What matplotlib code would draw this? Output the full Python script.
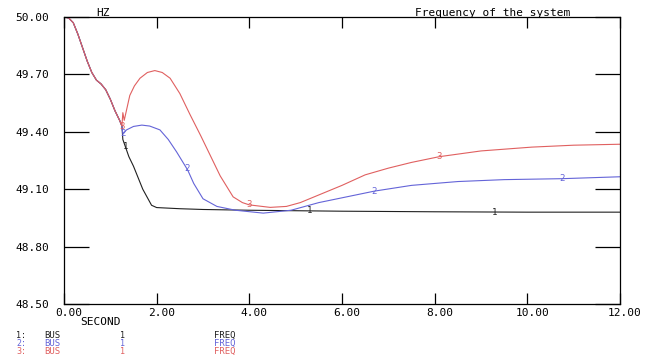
import numpy as np
import matplotlib.pyplot as plt
from matplotlib.transforms import ScaledTranslation

# shared initial drop (all three runs identical up to ~1.25 s)
t_start = [0.0, 0.1, 0.2, 0.3, 0.4, 0.5, 0.6, 0.7, 0.8, 0.9, 1.0, 1.1, 1.2, 1.25]
f_start = [50.00, 49.995, 49.97, 49.91, 49.84, 49.77, 49.71, 49.67, 49.65, 49.62, 49.57, 49.51, 49.46, 49.43]

t1 = t_start + [1.27, 1.4, 1.5, 1.7, 1.89, 2.0, 2.5, 3.0, 4.0, 6.0, 8.0, 10.0, 12.0]
f1 = f_start + [49.36, 49.27, 49.22, 49.10, 49.016, 49.004, 48.998, 48.994, 48.99, 48.985, 48.982, 48.98, 48.98]

t2 = t_start + [1.27, 1.35, 1.5, 1.68, 1.85, 2.07, 2.25, 2.43, 2.67, 2.8, 3.0, 3.3, 3.7, 4.3, 4.9,
                5.5, 6.0, 6.7, 7.5, 8.5, 9.5, 10.75, 12.0]
f2 = f_start + [49.39, 49.41, 49.428, 49.435, 49.43, 49.41, 49.36, 49.295, 49.20, 49.13, 49.05, 49.01,
                48.99, 48.975, 48.99, 49.03, 49.055, 49.09, 49.12, 49.14, 49.15, 49.155, 49.165]

t3 = t_start + [1.27, 1.3, 1.42, 1.52, 1.64, 1.8, 1.96, 2.12, 2.29, 2.5, 2.72, 2.95, 3.15, 3.37,
                3.65, 3.85, 4.0, 4.45, 4.8, 5.1, 5.5, 6.0, 6.5, 7.0, 7.5, 8.1, 9.0, 10.1, 11.0, 12.0]
f3 = f_start + [49.50, 49.46, 49.59, 49.64, 49.68, 49.71, 49.72, 49.71, 49.68, 49.60, 49.49,
                49.38, 49.28, 49.17, 49.06, 49.03, 49.018, 49.005, 49.01, 49.03, 49.07, 49.12,
                49.175, 49.21, 49.24, 49.27, 49.30, 49.32, 49.33, 49.335]

label_t1 = [1.32, 5.3, 9.3]
label_t2 = [1.27, 2.65, 6.7, 10.75]
label_t3 = [1.25, 4.0, 8.1]

xticks = [0, 2, 4, 6, 8, 10, 12]
yticks = [48.5, 48.8, 49.1, 49.4, 49.7, 50.0]

black = "#202020"
blue = "#6464d8"
red = "#e06060"
mono = "DejaVu Sans Mono"

fig = plt.figure(figsize=(6.5, 3.6), dpi=100)
ax = fig.add_axes([64 / 650, 1 - 304 / 360, 556 / 650, 287 / 360])

for t, f, c, lt, n in [(t1, f1, black, label_t1, "1"),
                       (t2, f2, blue, label_t2, "2"),
                       (t3, f3, red, label_t3, "3")]:
    ax.plot(t, f, color=c, lw=0.8)
    for x in lt:
        ax.text(x, np.interp(x, t, f), n, color=c, fontsize=6.5, family=mono,
                ha="center", va="center")

ax.set_xlim(0, 12)
ax.set_ylim(48.5, 50.0)
ax.set_xticks(xticks)
ax.set_xticklabels(["%.2f" % v for v in xticks], family=mono, fontsize=8)
ax.set_yticks(yticks)
ax.set_yticklabels(["%.2f" % v for v in yticks], family=mono, fontsize=8)
ax.tick_params(axis="x", direction="in", length=8, width=0.9, top=True, pad=3)
ax.tick_params(axis="y", direction="in", length=18, width=0.9, right=True, pad=11)
for lab in ax.get_xticklabels():
    lab.set_transform(lab.get_transform() + ScaledTranslation(5 / 100, 0, fig.dpi_scale_trans))
for s in ax.spines.values():
    s.set_linewidth(0.9)

fig.text(96 / 650, 1 - 13 / 360, "HZ", family=mono, fontsize=8, va="center")
fig.text(415 / 650, 1 - 13 / 360, "Frequency of the system", family=mono, fontsize=8, va="center")
fig.text(80 / 650, 1 - 322 / 360, "SECOND", family=mono, fontsize=8, va="center")

rows_y = [335, 343, 351]
for i, (c, y) in enumerate(zip([black, blue, red], rows_y)):
    yy = 1 - y / 360
    fig.text(16 / 650, yy, "%d:" % (i + 1), color=c, family=mono, fontsize=6, va="center")
    fig.text(44 / 650, yy, "BUS", color=c, family=mono, fontsize=6.5, va="center")
    fig.text(120 / 650, yy, "1", color=c, family=mono, fontsize=6, va="center")
    fig.text(214 / 650, yy, "FREQ", color=c, family=mono, fontsize=6.5, va="center")

fig.savefig("out.png", dpi=100)
